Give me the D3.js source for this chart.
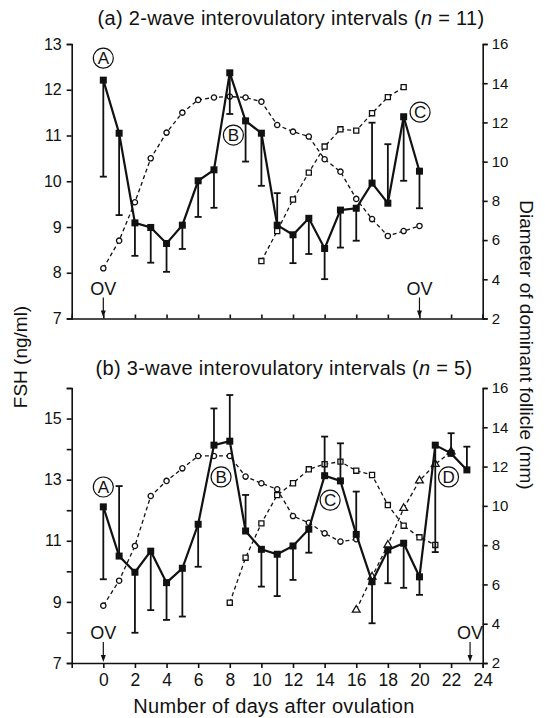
<!DOCTYPE html>
<html>
<head>
<meta charset="utf-8">
<script src="https://cdn.jsdelivr.net/npm/d3@7"></script>
<style>
body { margin: 0; background: #fff; }
svg text { font-family: "Liberation Sans", Arial, sans-serif; fill: #111; }
</style>
</head>
<body>
<div id="chart"></div>
<script>
// ---- data: panel (a), 2-wave intervals ----
var daysA = [0, 1, 2, 3, 4, 5, 6, 7, 8, 9, 10, 11, 12, 13, 14, 15, 16, 17, 18, 19, 20];
var fshA = [12.21, 11.05, 9.09, 8.99, 8.64, 9.04, 10.01, 10.25, 12.37, 11.32, 11.05, 9.04, 8.83, 9.19, 8.53, 9.37, 9.41, 9.96, 9.52, 11.41, 10.22];
var fshErrA = [10.10, 9.26, 8.37, 8.22, 8.02, 8.52, 9.22, 9.42, 11.47, 10.43, 9.90, 9.74, 8.21, 8.41, 7.86, 8.55, 8.70, 11.28, 10.81, 10.01, 9.41];
var wave1A = [4.56, 5.97, 7.93, 10.17, 11.48, 12.50, 13.15, 13.27, 13.32, 13.27, 13.06, 11.87, 11.53, 11.28, 10.12, 9.49, 8.10, 7.07, 6.21, 6.46, 6.72];
var wave2DaysA = [10, 11, 12, 13, 14, 15, 16, 17, 18, 19];
var wave2A = [4.93, 6.46, 8.07, 9.44, 10.77, 11.65, 11.58, 12.47, 13.29, 13.80];
var labelsA = [{t: "A", d: 0, v: 12.69}, {t: "B", d: 8.23, v: 11.01}, {t: "C", d: 20.04, v: 11.51}];
var ovA = [0, 20];

// ---- data: panel (b), 3-wave intervals ----
var daysB = [0, 1, 2, 3, 4, 5, 6, 7, 8, 9, 10, 11, 12, 13, 14, 15, 16, 17, 18, 19, 20, 21, 22, 23];
var fshB = [12.11, 10.50, 9.97, 10.66, 9.63, 10.10, 11.54, 14.13, 14.26, 11.32, 10.72, 10.56, 10.83, 11.38, 13.13, 12.96, 11.21, 9.66, 10.70, 10.92, 9.82, 14.13, 13.86, 13.32];
var fshErrB = [9.74, 12.79, 7.99, 8.73, 8.41, 8.52, 10.15, 15.33, 15.77, 12.50, 9.50, 9.19, 9.72, 10.61, 14.41, 14.19, 12.61, 8.30, 9.61, 9.46, 9.23, 10.63, 14.52, 14.08];
var wave1DaysB = [0, 1, 2, 3, 4, 5, 6, 7, 8, 9, 10, 11, 12, 13, 14, 15, 16];
var wave1B = [4.92, 6.19, 7.96, 10.50, 11.27, 11.91, 12.54, 12.54, 12.54, 11.49, 11.15, 10.84, 9.48, 9.14, 8.60, 8.18, 8.30];
var wave2DaysB = [8, 9, 10, 11, 12, 13, 14, 15, 16, 17, 18, 19, 20, 21];
var wave2B = [5.07, 7.36, 9.11, 10.55, 11.15, 11.86, 12.12, 12.25, 11.79, 11.57, 10.04, 8.99, 8.40, 8.01];
var wave3DaysB = [16, 17, 18, 19, 20, 21, 22];
var wave3B = [4.70, 6.39, 8.01, 9.88, 11.28, 12.12, 12.76];
var labelsB = [{t: "A", d: 0, v: 12.76}, {t: "B", d: 7.45, v: 13.09}, {t: "C", d: 14.35, v: 12.33}, {t: "D", d: 21.84, v: 13.09}];
var ovB = [0, 23.2];

// ticks
var xTicks = [0, 2, 4, 6, 8, 10, 12, 14, 16, 18, 20, 22, 24];
var fshTicksA = [7, 8, 9, 10, 11, 12, 13];
var fshTicksB = [7, 8, 9, 10, 11, 12, 13, 14, 15, 16];
var mmTicks = [2, 4, 6, 8, 10, 12, 14, 16];

var w = 545, h = 718;

var svg = d3.select("#chart").append("svg")
    .attr("width", w)
    .attr("height", h);

var x = d3.scaleLinear().domain([-2, 24]).range([71.7, 482.7]);

function panel(cfg) {
  var g = svg.append("g");
  var yF = d3.scaleLinear().domain(cfg.fshDomain).range([cfg.bottom, cfg.top]);
  var yD = d3.scaleLinear().domain([2, 16]).range([cfg.bottom, cfg.top]);

  // axes
  var left = g.append("g")
      .attr("transform", "translate(" + x(-2) + ",0)")
      .call(d3.axisLeft(yF).tickValues(cfg.fshTicks).tickSize(5).tickPadding(5)
        .tickFormat(function(d) { return cfg.fshLabels.indexOf(d) >= 0 ? d : ""; }));
  var right = g.append("g")
      .attr("transform", "translate(" + x(24) + ",0)")
      .call(d3.axisRight(yD).tickValues(mmTicks).tickSize(5).tickPadding(4));
  var bottom = g.append("g")
      .attr("transform", "translate(0," + cfg.bottom + ")")
      .call(d3.axisBottom(x).tickValues(xTicks).tickSizeOuter(0)
        .tickSize(cfg.showX ? 5 : -4).tickPadding(6)
        .tickFormat(cfg.showX ? d3.format("d") : function() { return ""; }));
  [left, right, bottom].forEach(function(a) {
    a.selectAll("path, line").attr("stroke", "#111").attr("stroke-width", 1.6);
    a.selectAll("text").attr("fill", "#111");
  });
  left.selectAll("text").attr("font-size", "16px");
  right.selectAll("text").attr("font-size", "15px");
  bottom.selectAll("text").attr("font-size", "17.5px");

  // title
  var title = g.append("text")
      .attr("x", cfg.titleX).attr("y", cfg.titleY)
      .attr("text-anchor", "middle")
      .attr("font-size", "20px")
      .attr("letter-spacing", "0.3px");
  title.append("tspan").text(cfg.title + " (");
  title.append("tspan").attr("font-style", "italic").text("n");
  title.append("tspan").text(" = " + cfg.n + ")");

  // follicle waves (dashed)
  var dashed = d3.line()
      .x(function(d) { return x(d[0]); })
      .y(function(d) { return yD(d[1]); });
  cfg.waves.forEach(function(wv) {
    var pts = d3.zip(wv.days, wv.vals);
    g.append("path")
      .datum(pts)
      .attr("d", dashed)
      .attr("fill", "none")
      .attr("stroke", "#111")
      .attr("stroke-width", 1.3)
      .attr("stroke-dasharray", "4,3");
    var sym = d3.symbol().type(wv.shape).size(wv.shape === d3.symbolCircle ? 22 : 26);
    g.selectAll(null)
      .data(pts)
      .enter()
      .append("path")
      .attr("d", sym)
      .attr("transform", function(d) { return "translate(" + x(d[0]) + "," + yD(d[1]) + ")"; })
      .attr("fill", "#fff")
      .attr("stroke", "#111")
      .attr("stroke-width", 1.3);
  });

  // FSH error bars
  var fsh = d3.zip(cfg.days, cfg.fsh, cfg.err);
  var eb = g.selectAll(null).data(fsh).enter().append("g");
  eb.append("line")
    .attr("x1", function(d) { return x(d[0]); })
    .attr("x2", function(d) { return x(d[0]); })
    .attr("y1", function(d) { return yF(d[1]); })
    .attr("y2", function(d) { return yF(d[2]); })
    .attr("stroke", "#111").attr("stroke-width", 1.8);
  eb.append("line")
    .attr("x1", function(d) { return x(d[0]) - 3.5; })
    .attr("x2", function(d) { return x(d[0]) + 3.5; })
    .attr("y1", function(d) { return yF(d[2]); })
    .attr("y2", function(d) { return yF(d[2]); })
    .attr("stroke", "#111").attr("stroke-width", 1.8);

  // FSH line + filled squares
  g.append("path")
    .datum(fsh)
    .attr("d", d3.line().x(function(d) { return x(d[0]); }).y(function(d) { return yF(d[1]); }))
    .attr("fill", "none")
    .attr("stroke", "#111")
    .attr("stroke-width", 2.2)
    .attr("stroke-linejoin", "miter");
  g.selectAll(null)
    .data(fsh)
    .enter()
    .append("rect")
    .attr("x", function(d) { return x(d[0]) - 3.5; })
    .attr("y", function(d) { return yF(d[1]) - 3.5; })
    .attr("width", 7).attr("height", 7)
    .attr("fill", "#111");

  // circled letters
  var lab = g.selectAll(null).data(cfg.labels).enter().append("g")
      .attr("transform", function(d) { return "translate(" + x(d.d) + "," + yF(d.v) + ")"; });
  lab.append("circle").attr("r", 10).attr("fill", "#fff").attr("stroke", "#111").attr("stroke-width", 1.2);
  lab.append("text").attr("text-anchor", "middle").attr("dy", "0.36em")
    .attr("font-size", "17px").text(function(d) { return d.t; });

  // ovulation markers
  var ov = g.selectAll(null).data(cfg.ov).enter().append("g")
      .attr("transform", function(d) { return "translate(" + x(d) + "," + cfg.bottom + ")"; });
  ov.append("text").attr("text-anchor", "middle").attr("y", -24)
    .attr("font-size", "18px").text("OV");
  ov.append("line").attr("y1", -21).attr("y2", -4).attr("stroke", "#111").attr("stroke-width", 1.2);
  ov.append("path").attr("d", "M-2.5,-8L2.5,-8L0,-1Z").attr("fill", "#111");
}

panel({
  top: 44, bottom: 318.5, fshDomain: [7, 13], fshTicks: fshTicksA, fshLabels: fshTicksA,
  showX: false, title: "(a) 2-wave interovulatory intervals", n: 11, titleX: 291, titleY: 25,
  days: daysA, fsh: fshA, err: fshErrA,
  waves: [
    {days: daysA, vals: wave1A, shape: d3.symbolCircle},
    {days: wave2DaysA, vals: wave2A, shape: d3.symbolSquare}
  ],
  labels: labelsA, ov: ovA
});

panel({
  top: 388, bottom: 663, fshDomain: [7, 16], fshTicks: fshTicksB, fshLabels: [7, 9, 11, 13, 15],
  showX: true, title: "(b) 3-wave interovulatory intervals", n: 5, titleX: 284, titleY: 375,
  days: daysB, fsh: fshB, err: fshErrB,
  waves: [
    {days: wave1DaysB, vals: wave1B, shape: d3.symbolCircle},
    {days: wave2DaysB, vals: wave2B, shape: d3.symbolSquare},
    {days: wave3DaysB, vals: wave3B, shape: d3.symbolTriangle}
  ],
  labels: labelsB, ov: ovB
});

// axis titles
svg.append("text")
  .attr("transform", "translate(27,357) rotate(-90)")
  .attr("text-anchor", "middle")
  .attr("font-size", "19px")
  .text("FSH (ng/ml)");

svg.append("text")
  .attr("transform", "translate(520,345) rotate(90)")
  .attr("text-anchor", "middle")
  .attr("font-size", "19px")
  .text("Diameter of dominant follicle (mm)");

svg.append("text")
  .attr("x", 274).attr("y", 713)
  .attr("text-anchor", "middle")
  .attr("font-size", "20px")
  .attr("letter-spacing", "0.3px")
  .text("Number of days after ovulation");
</script>
</body>
</html>
